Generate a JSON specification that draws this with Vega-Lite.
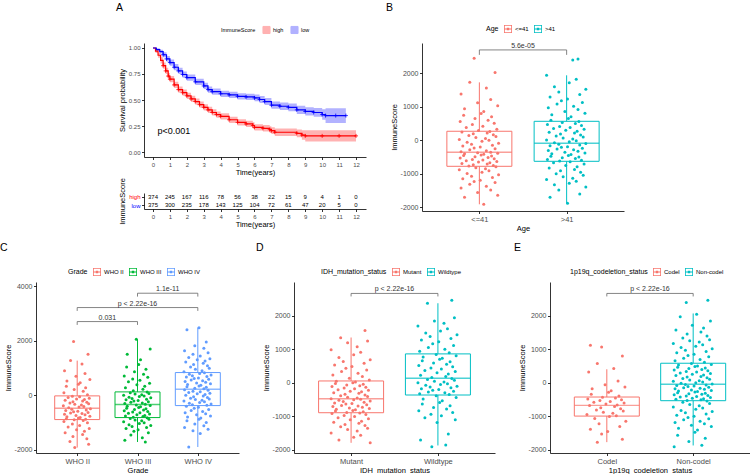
{
"$schema":"https://vega.github.io/schema/vega-lite/v6.json",
"padding":{"top":2,"left":0,"right":0,"bottom":0},
"config":{
 "font":"Liberation Sans",
 "view":{"stroke":null},
 "axis":{"grid":false,"labelOverlap":false,"domainColor":"#000","domainWidth":0.8,"tickColor":"#000","tickWidth":0.8,"tickSize":2.5,"labelColor":"#4D4D4D","labelFontSize":7,"titleFontSize":7.5,"titleFontWeight":"normal","titleColor":"#000","labelPadding":1.5,"titlePadding":2},
 "legend":{"orient":"none","direction":"horizontal","titleOrient":"left","titleFontWeight":"normal","titleFontSize":7,"labelFontSize":6,"titleColor":"#000","labelColor":"#000","symbolType":"M-1,-1H1V1H-1Z M-0.8,-0.8V0.8H0.8V-0.8Z M-0.8,-0.1H0.8V0.1H-0.8Z M-0.3,-0.3H0.3V0.3H-0.3Z","symbolSize":64,"symbolStrokeWidth":0,"labelOffset":3,"columnPadding":5,"titlePadding":5},
 "title":{"fontSize":10.5,"fontWeight":"normal","anchor":"start","frame":"group","color":"#000","offset":12}
},
"datasets":{
"surv":[
{"grp":"high","t":0,"s":1,"lo":1,"hi":1},{"grp":"high","t":0.15,"s":0.97,"lo":0.952,"hi":0.988},{"grp":"high","t":0.3,"s":0.93,"lo":0.905,"hi":0.955},{"grp":"high","t":0.45,"s":0.88,"lo":0.85,"hi":0.91},{"grp":"high","t":0.6,"s":0.83,"lo":0.8,"hi":0.86},{"grp":"high","t":0.75,"s":0.78,"lo":0.75,"hi":0.81},{"grp":"high","t":0.9,"s":0.73,"lo":0.7,"hi":0.76},{"grp":"high","t":1.0,"s":0.7,"lo":0.67,"hi":0.73},{"grp":"high","t":1.25,"s":0.645,"lo":0.615,"hi":0.675},{"grp":"high","t":1.5,"s":0.6,"lo":0.57,"hi":0.63},{"grp":"high","t":1.75,"s":0.57,"lo":0.54,"hi":0.6},{"grp":"high","t":2.0,"s":0.54,"lo":0.51,"hi":0.57},{"grp":"high","t":2.25,"s":0.51,"lo":0.48,"hi":0.54},{"grp":"high","t":2.5,"s":0.485,"lo":0.455,"hi":0.515},{"grp":"high","t":2.75,"s":0.455,"lo":0.425,"hi":0.485},{"grp":"high","t":3.0,"s":0.43,"lo":0.4,"hi":0.46},{"grp":"high","t":3.25,"s":0.405,"lo":0.375,"hi":0.435},{"grp":"high","t":3.5,"s":0.38,"lo":0.35,"hi":0.41},{"grp":"high","t":3.75,"s":0.36,"lo":0.33,"hi":0.39},{"grp":"high","t":4.0,"s":0.343,"lo":0.313,"hi":0.373},{"grp":"high","t":4.5,"s":0.31,"lo":0.28,"hi":0.34},{"grp":"high","t":5.0,"s":0.285,"lo":0.255,"hi":0.315},{"grp":"high","t":5.5,"s":0.27,"lo":0.24,"hi":0.3},{"grp":"high","t":5.9,"s":0.255,"lo":0.224,"hi":0.286},{"grp":"high","t":6.0,"s":0.237,"lo":0.206,"hi":0.268},{"grp":"high","t":6.5,"s":0.228,"lo":0.196,"hi":0.26},{"grp":"high","t":6.9,"s":0.215,"lo":0.182,"hi":0.248},{"grp":"high","t":7.0,"s":0.205,"lo":0.172,"hi":0.238},{"grp":"high","t":7.2,"s":0.19,"lo":0.155,"hi":0.225},{"grp":"high","t":8.5,"s":0.18,"lo":0.143,"hi":0.217},{"grp":"high","t":8.8,"s":0.163,"lo":0.118,"hi":0.208},{"grp":"high","t":9.0,"s":0.155,"lo":0.1,"hi":0.21},{"grp":"high","t":10.0,"s":0.155,"lo":0.1,"hi":0.21},{"grp":"high","t":11.0,"s":0.155,"lo":0.1,"hi":0.21},{"grp":"high","t":12.0,"s":0.155,"lo":0.1,"hi":0.21},
{"grp":"low","t":0,"s":1,"lo":1,"hi":1},{"grp":"low","t":0.2,"s":0.985,"lo":0.973,"hi":0.997},{"grp":"low","t":0.4,"s":0.965,"lo":0.947,"hi":0.983},{"grp":"low","t":0.6,"s":0.935,"lo":0.91,"hi":0.96},{"grp":"low","t":0.8,"s":0.895,"lo":0.867,"hi":0.923},{"grp":"low","t":1.0,"s":0.86,"lo":0.83,"hi":0.89},{"grp":"low","t":1.25,"s":0.815,"lo":0.785,"hi":0.845},{"grp":"low","t":1.5,"s":0.78,"lo":0.75,"hi":0.81},{"grp":"low","t":1.75,"s":0.745,"lo":0.715,"hi":0.775},{"grp":"low","t":2.0,"s":0.715,"lo":0.685,"hi":0.745},{"grp":"low","t":2.5,"s":0.675,"lo":0.645,"hi":0.705},{"grp":"low","t":3.0,"s":0.635,"lo":0.605,"hi":0.665},{"grp":"low","t":3.25,"s":0.6,"lo":0.57,"hi":0.63},{"grp":"low","t":3.5,"s":0.58,"lo":0.55,"hi":0.61},{"grp":"low","t":4.0,"s":0.56,"lo":0.53,"hi":0.59},{"grp":"low","t":4.5,"s":0.55,"lo":0.52,"hi":0.58},{"grp":"low","t":5.0,"s":0.535,"lo":0.505,"hi":0.565},{"grp":"low","t":5.5,"s":0.53,"lo":0.5,"hi":0.56},{"grp":"low","t":6.0,"s":0.52,"lo":0.488,"hi":0.552},{"grp":"low","t":6.3,"s":0.505,"lo":0.472,"hi":0.538},{"grp":"low","t":6.6,"s":0.485,"lo":0.451,"hi":0.519},{"grp":"low","t":7.0,"s":0.45,"lo":0.415,"hi":0.485},{"grp":"low","t":7.5,"s":0.44,"lo":0.404,"hi":0.476},{"grp":"low","t":8.0,"s":0.43,"lo":0.393,"hi":0.467},{"grp":"low","t":8.5,"s":0.405,"lo":0.366,"hi":0.444},{"grp":"low","t":9.0,"s":0.39,"lo":0.35,"hi":0.43},{"grp":"low","t":9.5,"s":0.38,"lo":0.338,"hi":0.422},{"grp":"low","t":10.0,"s":0.36,"lo":0.31,"hi":0.41},{"grp":"low","t":10.2,"s":0.35,"lo":0.28,"hi":0.42},{"grp":"low","t":10.8,"s":0.35,"lo":0.28,"hi":0.42},{"grp":"low","t":11.4,"s":0.35,"lo":0.28,"hi":0.42}
],
"risk":[
{"grp":"high","t":0,"n":374},{"grp":"high","t":1,"n":245},{"grp":"high","t":2,"n":167},{"grp":"high","t":3,"n":116},{"grp":"high","t":4,"n":78},{"grp":"high","t":5,"n":56},{"grp":"high","t":6,"n":38},{"grp":"high","t":7,"n":22},{"grp":"high","t":8,"n":15},{"grp":"high","t":9,"n":9},{"grp":"high","t":10,"n":4},{"grp":"high","t":11,"n":1},{"grp":"high","t":12,"n":0},
{"grp":"low","t":0,"n":375},{"grp":"low","t":1,"n":300},{"grp":"low","t":2,"n":235},{"grp":"low","t":3,"n":178},{"grp":"low","t":4,"n":143},{"grp":"low","t":5,"n":125},{"grp":"low","t":6,"n":104},{"grp":"low","t":7,"n":72},{"grp":"low","t":8,"n":61},{"grp":"low","t":9,"n":47},{"grp":"low","t":10,"n":20},{"grp":"low","t":11,"n":5},{"grp":"low","t":12,"n":0}
],
"bBox":[{"grp":"<=41","c":1,"lo":-1910,"q1":-776,"med":-358,"q3":270,"hi":1730},{"grp":">41","c":2,"lo":-1880,"q1":-627,"med":-90,"q3":567,"hi":1940}],
"cBox":[{"grp":"WHO II","c":1,"lo":-1920,"q1":-893,"med":-477,"q3":-24,"hi":1270},{"grp":"WHO III","c":2,"lo":-1716,"q1":-820,"med":-343,"q3":122,"hi":2055},{"grp":"WHO IV","c":3,"lo":-1900,"q1":-380,"med":220,"q3":832,"hi":2483}],
"dBox":[{"grp":"Mutant","c":1,"lo":-1786,"q1":-888,"med":-469,"q3":60,"hi":1357},{"grp":"Wildtype","c":2,"lo":-1865,"q1":-359,"med":140,"q3":868,"hi":2380}],
"eBox":[{"grp":"Codel","c":1,"lo":-1766,"q1":-988,"med":-668,"q3":-419,"hi":409},{"grp":"Non-codel","c":2,"lo":-1865,"q1":-529,"med":-40,"q3":589,"hi":2075}],
"bBr":[{"x1":1,"x2":2,"xm":1.5,"y":2697,"yl":2550,"label":"5.6e-05"}],
"cBr":[{"x1":1,"x2":2,"xm":1.5,"y":2703,"yl":2580,"label":"0.031"},{"x1":1,"x2":3,"xm":2,"y":3217,"yl":3094,"label":"p < 2.22e-16"},{"x1":2,"x2":3,"xm":2.5,"y":3743,"yl":3620,"label":"1.1e-11"}],
"dBr":[{"x1":1,"x2":2,"xm":1.5,"y":2673,"yl":2583,"label":"p < 2.22e-16"}],
"eBr":[{"x1":1,"x2":2,"xm":1.5,"y":2673,"yl":2583,"label":"p < 2.22e-16"}],
"bPts":[
{"x":1.05,"y":-1910},{"x":0.83,"y":-1700},{"x":1.21,"y":-1640},{"x":0.98,"y":-1560},{"x":1.13,"y":-1480},{"x":0.79,"y":-1420},{"x":1.08,"y":-1370},{"x":0.89,"y":-1310},{"x":1.18,"y":-1260},{"x":0.94,"y":-1230},{"x":1.01,"y":-1190},{"x":0.81,"y":-1150},{"x":1.15,"y":-1110},{"x":0.91,"y":-1070},{"x":1.22,"y":-1030},{"x":0.86,"y":-990},{"x":1.03,"y":-950},{"x":1.11,"y":-910},{"x":0.77,"y":-880},{"x":1.07,"y":-850},{"x":0.96,"y":-820},{"x":1.19,"y":-790},{"x":0.88,"y":-770},{"x":1.16,"y":-750},{"x":0.93,"y":-730},{"x":1.09,"y":-710},{"x":0.8,"y":-690},{"x":1.12,"y":-670},{"x":0.99,"y":-650},{"x":1.2,"y":-630},{"x":0.85,"y":-610},{"x":1.04,"y":-590},{"x":0.92,"y":-570},{"x":1.17,"y":-550},{"x":0.78,"y":-530},{"x":1.1,"y":-510},{"x":0.95,"y":-490},{"x":1.14,"y":-470},{"x":0.82,"y":-450},{"x":1.02,"y":-435},
{"x":1.05,"y":-420},{"x":0.83,"y":-405},{"x":1.21,"y":-390},{"x":0.98,"y":-375},{"x":1.13,"y":-360},{"x":0.79,"y":-340},{"x":1.08,"y":-310},{"x":0.89,"y":-285},{"x":1.18,"y":-255},{"x":0.94,"y":-230},{"x":1.01,"y":-200},{"x":0.81,"y":-170},{"x":1.15,"y":-145},{"x":0.91,"y":-115},{"x":1.22,"y":-90},{"x":0.86,"y":-60},{"x":1.03,"y":-30},{"x":1.11,"y":0},{"x":0.77,"y":25},{"x":1.07,"y":55},{"x":0.96,"y":85},{"x":1.19,"y":110},{"x":0.88,"y":140},{"x":1.16,"y":165},{"x":0.93,"y":195},{"x":1.09,"y":220},{"x":0.8,"y":245},{"x":1.12,"y":265},{"x":0.99,"y":290},{"x":1.2,"y":330},{"x":0.85,"y":380},{"x":1.04,"y":420},{"x":0.92,"y":470},{"x":1.17,"y":510},{"x":0.78,"y":560},{"x":1.1,"y":600},{"x":0.95,"y":650},{"x":1.14,"y":700},{"x":0.82,"y":750},{"x":1.02,"y":800},
{"x":1.05,"y":860},{"x":0.83,"y":940},{"x":1.21,"y":1030},{"x":0.98,"y":1120},{"x":1.13,"y":1220},{"x":0.79,"y":1380},{"x":1.08,"y":1560},{"x":0.89,"y":1730},{"x":1.18,"y":2020},{"x":0.94,"y":2450},
{"x":2.01,"y":-1880},{"x":1.81,"y":-1700},{"x":2.15,"y":-1600},{"x":1.91,"y":-1480},{"x":2.22,"y":-1390},{"x":1.86,"y":-1330},{"x":2.03,"y":-1280},{"x":2.11,"y":-1220},{"x":1.77,"y":-1170},{"x":2.07,"y":-1130},{"x":1.96,"y":-1090},{"x":2.19,"y":-1040},{"x":1.88,"y":-1000},{"x":2.16,"y":-950},{"x":1.93,"y":-910},{"x":2.09,"y":-870},{"x":1.8,"y":-830},{"x":2.12,"y":-790},{"x":1.99,"y":-750},{"x":2.2,"y":-710},{"x":1.85,"y":-670},{"x":2.04,"y":-640},{"x":1.92,"y":-620},{"x":2.17,"y":-595},{"x":1.78,"y":-570},{"x":2.1,"y":-545},{"x":1.95,"y":-520},{"x":2.14,"y":-500},{"x":1.82,"y":-475},{"x":2.02,"y":-450},
{"x":2.05,"y":-425},{"x":1.83,"y":-400},{"x":2.21,"y":-380},{"x":1.98,"y":-355},{"x":2.13,"y":-330},{"x":1.79,"y":-305},{"x":2.08,"y":-285},{"x":1.89,"y":-260},{"x":2.18,"y":-235},{"x":1.94,"y":-210},{"x":2.01,"y":-190},{"x":1.81,"y":-165},{"x":2.15,"y":-140},{"x":1.91,"y":-115},{"x":2.22,"y":-95},{"x":1.86,"y":-75},{"x":2.03,"y":-45},{"x":2.11,"y":-15},{"x":1.77,"y":10},{"x":2.07,"y":40},{"x":1.96,"y":70},{"x":2.19,"y":100},{"x":1.88,"y":125},{"x":2.16,"y":155},{"x":1.93,"y":185},{"x":2.09,"y":215},{"x":1.8,"y":240},{"x":2.12,"y":270},{"x":1.99,"y":300},{"x":2.2,"y":330},{"x":1.85,"y":355},{"x":2.04,"y":385},{"x":1.92,"y":415},{"x":2.17,"y":445},{"x":1.78,"y":470},{"x":2.1,"y":500},{"x":1.95,"y":530},{"x":2.14,"y":560},{"x":1.82,"y":600},{"x":2.02,"y":650},
{"x":2.05,"y":700},{"x":1.83,"y":760},{"x":2.21,"y":810},{"x":1.98,"y":860},{"x":2.13,"y":920},{"x":1.79,"y":970},{"x":2.08,"y":1020},{"x":1.89,"y":1080},{"x":2.18,"y":1130},{"x":1.94,"y":1180},{"x":2.01,"y":1230},{"x":1.81,"y":1290},{"x":2.15,"y":1370},{"x":1.91,"y":1440},{"x":2.22,"y":1520},{"x":1.86,"y":1600},{"x":2.03,"y":1720},{"x":2.11,"y":1820},{"x":1.77,"y":1940},{"x":2.07,"y":2400},{"x":2.13,"y":2430}
],
"cPts":[
{"x":0.96,"y":-1920},{"x":1.19,"y":-1800},{"x":0.88,"y":-1700},{"x":1.16,"y":-1600},{"x":0.93,"y":-1510},{"x":1.09,"y":-1440},{"x":0.8,"y":-1380},{"x":1.12,"y":-1320},{"x":0.99,"y":-1270},{"x":1.2,"y":-1220},{"x":0.85,"y":-1170},{"x":1.04,"y":-1110},{"x":0.92,"y":-1060},{"x":1.17,"y":-1010},{"x":0.78,"y":-960},{"x":1.1,"y":-930},{"x":0.95,"y":-900},{"x":1.14,"y":-885},{"x":0.82,"y":-860},{"x":1.02,"y":-835},
{"x":1.05,"y":-815},{"x":0.83,"y":-790},{"x":1.21,"y":-770},{"x":0.98,"y":-745},{"x":1.13,"y":-720},{"x":0.79,"y":-700},{"x":1.08,"y":-675},{"x":0.89,"y":-650},{"x":1.18,"y":-630},{"x":0.94,"y":-605},{"x":1.01,"y":-585},{"x":0.81,"y":-560},{"x":1.15,"y":-540},{"x":0.91,"y":-515},{"x":1.22,"y":-495},{"x":0.86,"y":-460},{"x":1.03,"y":-435},{"x":1.11,"y":-410},{"x":0.77,"y":-385},{"x":1.07,"y":-360},{"x":0.96,"y":-335},{"x":1.19,"y":-310},{"x":0.88,"y":-285},{"x":1.16,"y":-260},{"x":0.93,"y":-235},{"x":1.09,"y":-210},{"x":0.8,"y":-185},{"x":1.12,"y":-160},{"x":0.99,"y":-135},{"x":1.2,"y":-110},{"x":0.85,"y":-85},{"x":1.04,"y":-60},{"x":0.92,"y":-35},{"x":1.17,"y":20},{"x":0.78,"y":90},{"x":1.1,"y":150},{"x":0.95,"y":210},{"x":1.14,"y":270},{"x":0.82,"y":330},{"x":1.02,"y":400},
{"x":1.05,"y":460},{"x":0.83,"y":520},{"x":1.21,"y":580},{"x":0.98,"y":700},{"x":1.13,"y":800},{"x":0.79,"y":900},{"x":1.08,"y":1150},{"x":0.89,"y":1270},{"x":1.18,"y":1500},{"x":0.94,"y":1970},
{"x":2.13,"y":-1716},{"x":1.79,"y":-1650},{"x":2.08,"y":-1560},{"x":1.89,"y":-1460},{"x":2.18,"y":-1380},{"x":1.94,"y":-1320},{"x":2.01,"y":-1270},{"x":1.81,"y":-1220},{"x":2.15,"y":-1180},{"x":1.91,"y":-1150},{"x":2.22,"y":-1110},{"x":1.86,"y":-1080},{"x":2.03,"y":-1040},{"x":2.11,"y":-1010},{"x":1.77,"y":-970},{"x":2.07,"y":-940},{"x":1.96,"y":-910},{"x":2.19,"y":-880},{"x":1.88,"y":-850},{"x":2.16,"y":-830},{"x":1.93,"y":-810},{"x":2.09,"y":-785},{"x":1.8,"y":-760},{"x":2.12,"y":-740},{"x":1.99,"y":-715},{"x":2.2,"y":-690},{"x":1.85,"y":-665},{"x":2.04,"y":-640},{"x":1.92,"y":-620},{"x":2.17,"y":-595},{"x":1.78,"y":-570},{"x":2.1,"y":-545},{"x":1.95,"y":-520},{"x":2.14,"y":-500},{"x":1.82,"y":-475},{"x":2.02,"y":-450},
{"x":2.05,"y":-425},{"x":1.83,"y":-400},{"x":2.21,"y":-380},{"x":1.98,"y":-355},{"x":2.13,"y":-330},{"x":1.79,"y":-305},{"x":2.08,"y":-285},{"x":1.89,"y":-260},{"x":2.18,"y":-235},{"x":1.94,"y":-215},{"x":2.01,"y":-190},{"x":1.81,"y":-165},{"x":2.15,"y":-145},{"x":1.91,"y":-120},{"x":2.22,"y":-95},{"x":1.86,"y":-75},{"x":2.03,"y":-50},{"x":2.11,"y":-25},{"x":1.77,"y":-5},{"x":2.07,"y":20},{"x":1.96,"y":45},{"x":2.19,"y":65},{"x":1.88,"y":90},{"x":2.16,"y":115},{"x":1.93,"y":160},{"x":2.09,"y":220},{"x":1.8,"y":270},{"x":2.12,"y":330},{"x":1.99,"y":380},{"x":2.2,"y":440},{"x":1.85,"y":490},{"x":2.04,"y":550},{"x":1.92,"y":600},{"x":2.17,"y":660},{"x":1.78,"y":710},{"x":2.1,"y":770},{"x":1.95,"y":860},{"x":2.14,"y":950},{"x":1.82,"y":1040},{"x":2.02,"y":1130},
{"x":2.05,"y":1300},{"x":1.83,"y":1500},{"x":2.21,"y":1700},{"x":1.98,"y":2050},
{"x":2.85,"y":-1900},{"x":3.04,"y":-1400},{"x":2.92,"y":-1300},{"x":3.17,"y":-1250},{"x":2.78,"y":-1180},{"x":3.1,"y":-1120},{"x":2.95,"y":-1060},{"x":3.14,"y":-1000},{"x":2.82,"y":-940},{"x":3.02,"y":-880},
{"x":3.05,"y":-840},{"x":2.83,"y":-800},{"x":3.21,"y":-760},{"x":2.98,"y":-720},{"x":3.13,"y":-680},{"x":2.79,"y":-640},{"x":3.08,"y":-600},{"x":2.89,"y":-560},{"x":3.18,"y":-520},{"x":2.94,"y":-480},{"x":3.01,"y":-440},{"x":2.81,"y":-400},{"x":3.15,"y":-370},{"x":2.91,"y":-345},{"x":3.22,"y":-320},{"x":2.86,"y":-290},{"x":3.03,"y":-265},{"x":3.11,"y":-240},{"x":2.77,"y":-215},{"x":3.07,"y":-185},{"x":2.96,"y":-160},{"x":3.19,"y":-135},{"x":2.88,"y":-110},{"x":3.16,"y":-80},{"x":2.93,"y":-55},{"x":3.09,"y":-30},{"x":2.8,"y":-5},{"x":3.12,"y":25},{"x":2.99,"y":50},{"x":3.2,"y":75},{"x":2.85,"y":100},{"x":3.04,"y":125},{"x":2.92,"y":150},{"x":3.17,"y":180},{"x":2.78,"y":205},{"x":3.1,"y":235},{"x":2.95,"y":260},{"x":3.14,"y":290},{"x":2.82,"y":315},{"x":3.02,"y":340},
{"x":3.05,"y":370},{"x":2.83,"y":395},{"x":3.21,"y":420},{"x":2.98,"y":450},{"x":3.13,"y":475},{"x":2.79,"y":500},{"x":3.08,"y":530},{"x":2.89,"y":555},{"x":3.18,"y":585},{"x":2.94,"y":610},{"x":3.01,"y":635},{"x":2.81,"y":665},{"x":3.15,"y":690},{"x":2.91,"y":715},{"x":3.22,"y":745},{"x":2.86,"y":770},{"x":3.03,"y":795},{"x":3.11,"y":825},{"x":2.77,"y":860},{"x":3.07,"y":900},{"x":2.96,"y":950},{"x":3.19,"y":990},{"x":2.88,"y":1040},{"x":3.16,"y":1080},{"x":2.93,"y":1130},{"x":3.09,"y":1170},{"x":2.8,"y":1220},{"x":3.12,"y":1260},{"x":2.99,"y":1300},{"x":3.2,"y":1340},{"x":2.85,"y":1380},{"x":3.04,"y":1440},{"x":2.92,"y":1500},{"x":3.17,"y":1560},{"x":2.78,"y":1630},{"x":3.1,"y":1720},{"x":2.95,"y":1820},{"x":3.14,"y":1950},{"x":2.82,"y":2400},{"x":3.02,"y":2480}
],
"dPts":[
{"x":1.22,"y":-1786},{"x":0.86,"y":-1700},{"x":1.03,"y":-1620},{"x":1.11,"y":-1560},{"x":0.77,"y":-1490},{"x":1.07,"y":-1430},{"x":0.96,"y":-1390},{"x":1.19,"y":-1350},{"x":0.88,"y":-1310},{"x":1.16,"y":-1270},{"x":0.93,"y":-1240},{"x":1.09,"y":-1200},{"x":0.8,"y":-1170},{"x":1.12,"y":-1140},{"x":0.99,"y":-1100},{"x":1.2,"y":-1070},{"x":0.85,"y":-1040},{"x":1.04,"y":-1000},{"x":0.92,"y":-970},{"x":1.17,"y":-940},{"x":0.78,"y":-910},{"x":1.1,"y":-895},{"x":0.95,"y":-880},{"x":1.14,"y":-860},{"x":0.82,"y":-840},{"x":1.02,"y":-820},
{"x":1.05,"y":-800},{"x":0.83,"y":-785},{"x":1.21,"y":-765},{"x":0.98,"y":-745},{"x":1.13,"y":-725},{"x":0.79,"y":-705},{"x":1.08,"y":-690},{"x":0.89,"y":-670},{"x":1.18,"y":-650},{"x":0.94,"y":-630},{"x":1.01,"y":-610},{"x":0.81,"y":-595},{"x":1.15,"y":-575},{"x":0.91,"y":-555},{"x":1.22,"y":-535},{"x":0.86,"y":-515},{"x":1.03,"y":-500},{"x":1.11,"y":-485},{"x":0.77,"y":-470},{"x":1.07,"y":-450},{"x":0.96,"y":-425},{"x":1.19,"y":-405},{"x":0.88,"y":-380},{"x":1.16,"y":-360},{"x":0.93,"y":-335},{"x":1.09,"y":-310},{"x":0.8,"y":-290},{"x":1.12,"y":-265},{"x":0.99,"y":-245},{"x":1.2,"y":-220},{"x":0.85,"y":-200},{"x":1.04,"y":-175},{"x":0.92,"y":-150},{"x":1.17,"y":-130},{"x":0.78,"y":-105},{"x":1.1,"y":-85},{"x":0.95,"y":-60},{"x":1.14,"y":-40},{"x":0.82,"y":-15},{"x":1.02,"y":10},
{"x":1.05,"y":30},{"x":0.83,"y":55},{"x":1.21,"y":90},{"x":0.98,"y":140},{"x":1.13,"y":190},{"x":0.79,"y":240},{"x":1.08,"y":290},{"x":0.89,"y":340},{"x":1.18,"y":390},{"x":0.94,"y":440},{"x":1.01,"y":490},{"x":0.81,"y":540},{"x":1.15,"y":590},{"x":0.91,"y":640},{"x":1.22,"y":690},{"x":0.86,"y":760},{"x":1.03,"y":840},{"x":1.11,"y":920},{"x":0.77,"y":990},{"x":1.07,"y":1080},{"x":0.96,"y":1200},{"x":1.19,"y":1250},{"x":0.88,"y":1350},{"x":1.16,"y":1570},
{"x":1.93,"y":-1900},{"x":2.09,"y":-1850},{"x":1.8,"y":-1700},{"x":2.12,"y":-1520},{"x":1.99,"y":-1180},{"x":2.2,"y":-1100},{"x":1.85,"y":-1040},{"x":2.04,"y":-980},{"x":1.92,"y":-930},{"x":2.17,"y":-880},{"x":1.78,"y":-830},{"x":2.1,"y":-780},{"x":1.95,"y":-730},{"x":2.14,"y":-680},{"x":1.82,"y":-630},{"x":2.02,"y":-580},
{"x":2.05,"y":-530},{"x":1.83,"y":-480},{"x":2.21,"y":-430},{"x":1.98,"y":-380},{"x":2.13,"y":-345},{"x":1.79,"y":-320},{"x":2.08,"y":-295},{"x":1.89,"y":-270},{"x":2.18,"y":-245},{"x":1.94,"y":-220},{"x":2.01,"y":-195},{"x":1.81,"y":-170},{"x":2.15,"y":-145},{"x":1.91,"y":-120},{"x":2.22,"y":-95},{"x":1.86,"y":-70},{"x":2.03,"y":-45},{"x":2.11,"y":-20},{"x":1.77,"y":5},{"x":2.07,"y":30},{"x":1.96,"y":55},{"x":2.19,"y":80},{"x":1.88,"y":105},{"x":2.16,"y":130},{"x":1.93,"y":160},{"x":2.09,"y":195},{"x":1.8,"y":230},{"x":2.12,"y":270},{"x":1.99,"y":305},{"x":2.2,"y":340},{"x":1.85,"y":375},{"x":2.04,"y":415},{"x":1.92,"y":450},{"x":2.17,"y":485},{"x":1.78,"y":520},{"x":2.1,"y":560},{"x":1.95,"y":595},{"x":2.14,"y":630},{"x":1.82,"y":665},{"x":2.02,"y":705},
{"x":2.05,"y":740},{"x":1.83,"y":775},{"x":2.21,"y":810},{"x":1.98,"y":850},{"x":2.13,"y":900},{"x":1.79,"y":950},{"x":2.08,"y":1010},{"x":1.89,"y":1060},{"x":2.18,"y":1120},{"x":1.94,"y":1170},{"x":2.01,"y":1230},{"x":1.81,"y":1280},{"x":2.15,"y":1330},{"x":1.91,"y":1390},{"x":2.22,"y":1440},{"x":1.86,"y":1490},{"x":2.03,"y":1550},{"x":2.11,"y":1620},{"x":1.77,"y":1700},{"x":2.07,"y":1780},{"x":1.96,"y":1850},{"x":2.19,"y":1950},{"x":1.88,"y":2380},{"x":2.16,"y":2470}
],
"ePts":[
{"x":0.89,"y":-1766},{"x":1.18,"y":-1680},{"x":0.94,"y":-1520},{"x":1.01,"y":-1450},{"x":0.81,"y":-1380},{"x":1.15,"y":-1300},{"x":0.91,"y":-1220},{"x":1.22,"y":-1140},{"x":0.86,"y":-1060},{"x":1.03,"y":-1000},{"x":1.11,"y":-975},{"x":0.77,"y":-940},{"x":1.07,"y":-905},{"x":0.96,"y":-870},{"x":1.19,"y":-840},{"x":0.88,"y":-805},{"x":1.16,"y":-770},{"x":0.93,"y":-740},{"x":1.09,"y":-705},{"x":0.8,"y":-675},{"x":1.12,"y":-655},{"x":0.99,"y":-630},{"x":1.2,"y":-600},{"x":0.85,"y":-575},{"x":1.04,"y":-550},{"x":0.92,"y":-525},{"x":1.17,"y":-500},{"x":0.78,"y":-475},{"x":1.1,"y":-450},{"x":0.95,"y":-425},{"x":1.14,"y":-390},{"x":0.82,"y":-340},{"x":1.02,"y":-280},
{"x":1.05,"y":-230},{"x":0.83,"y":-170},{"x":1.21,"y":-120},{"x":0.98,"y":-50},{"x":1.13,"y":60},{"x":0.79,"y":330},{"x":1.08,"y":430},{"x":0.89,"y":580},{"x":1.18,"y":808},{"x":0.94,"y":1077},{"x":0.81,"y":1127},
{"x":1.78,"y":-1900},{"x":2.1,"y":-1860},{"x":1.95,"y":-1750},{"x":2.14,"y":-1650},{"x":1.82,"y":-1560},{"x":2.02,"y":-1470},
{"x":2.05,"y":-1400},{"x":1.83,"y":-1350},{"x":2.21,"y":-1300},{"x":1.98,"y":-1260},{"x":2.13,"y":-1220},{"x":1.79,"y":-1180},{"x":2.08,"y":-1140},{"x":1.89,"y":-1100},{"x":2.18,"y":-1065},{"x":1.94,"y":-1030},{"x":2.01,"y":-995},{"x":1.81,"y":-960},{"x":2.15,"y":-925},{"x":1.91,"y":-890},{"x":2.22,"y":-855},{"x":1.86,"y":-820},{"x":2.03,"y":-785},{"x":2.11,"y":-750},{"x":1.77,"y":-715},{"x":2.07,"y":-680},{"x":1.96,"y":-645},{"x":2.19,"y":-610},{"x":1.88,"y":-575},{"x":2.16,"y":-540},{"x":1.93,"y":-520},{"x":2.09,"y":-503},{"x":1.8,"y":-487},{"x":2.12,"y":-470},{"x":1.99,"y":-454},{"x":2.2,"y":-437},{"x":1.85,"y":-421},{"x":2.04,"y":-404},{"x":1.92,"y":-388},{"x":2.17,"y":-371},{"x":1.78,"y":-355},{"x":2.1,"y":-338},{"x":1.95,"y":-322},{"x":2.14,"y":-305},{"x":1.82,"y":-289},{"x":2.02,"y":-272},
{"x":2.05,"y":-256},{"x":1.83,"y":-239},{"x":2.21,"y":-223},{"x":1.98,"y":-206},{"x":2.13,"y":-190},{"x":1.79,"y":-173},{"x":2.08,"y":-157},{"x":1.89,"y":-140},{"x":2.18,"y":-124},{"x":1.94,"y":-107},{"x":2.01,"y":-91},{"x":1.81,"y":-74},{"x":2.15,"y":-58},{"x":1.91,"y":-45},{"x":2.22,"y":-30},{"x":1.86,"y":-10},{"x":2.03,"y":10},{"x":2.11,"y":30},{"x":1.77,"y":50},{"x":2.07,"y":70},{"x":1.96,"y":90},{"x":2.19,"y":115},{"x":1.88,"y":135},{"x":2.16,"y":155},{"x":1.93,"y":175},{"x":2.09,"y":195},{"x":1.8,"y":220},{"x":2.12,"y":240},{"x":1.99,"y":260},{"x":2.2,"y":280},{"x":1.85,"y":300},{"x":2.04,"y":325},{"x":1.92,"y":345},{"x":2.17,"y":365},{"x":1.78,"y":385},{"x":2.1,"y":405},{"x":1.95,"y":430},{"x":2.14,"y":450},{"x":1.82,"y":470},{"x":2.02,"y":490},
{"x":2.05,"y":510},{"x":1.83,"y":535},{"x":2.21,"y":555},{"x":1.98,"y":580},{"x":2.13,"y":620},{"x":1.79,"y":660},{"x":2.08,"y":700},{"x":1.89,"y":740},{"x":2.18,"y":780},{"x":1.94,"y":820},{"x":2.01,"y":860},{"x":1.81,"y":900},{"x":2.15,"y":940},{"x":1.91,"y":980},{"x":2.22,"y":1020},{"x":1.86,"y":1060},{"x":2.03,"y":1100},{"x":2.11,"y":1140},{"x":1.77,"y":1180},{"x":2.07,"y":1220},{"x":1.96,"y":1260},{"x":2.19,"y":1290},{"x":1.88,"y":1340},{"x":2.16,"y":1400},{"x":1.93,"y":1460},{"x":2.09,"y":1520},{"x":1.8,"y":1580},{"x":2.12,"y":1640},{"x":1.99,"y":1720},{"x":2.2,"y":1850},{"x":1.85,"y":1980},{"x":2.04,"y":2050},{"x":1.92,"y":2400},{"x":2.17,"y":2470}
]
},
"spacing":10,
"resolve":{"scale":{"color":"independent","fill":"independent","stroke":"independent"},"legend":{"color":"independent","fill":"independent","stroke":"independent"}},
"vconcat":[
{"hconcat":[
 {"width":60,"height":10,"data":{"values":[]},"mark":{"type":"point","opacity":0},"encoding":{}},
 {"vconcat":[
  {"width":222,"height":114,
   "title":{"text":"A","dx":-28},
   "data":{"name":"surv"},
   "encoding":{
    "x":{"field":"t","type":"quantitative","scale":{"domain":[-0.53,12.59],"nice":false,"zero":false},"axis":{"values":[0,1,2,3,4,5,6,7,8,9,10,11,12],"labelOverlap":false,"title":"Time(years)","labelFontSize":6,"titlePadding":1}},
    "y":{"field":"s","type":"quantitative","scale":{"domain":[-0.048,1.048],"nice":false,"zero":false},"axis":{"values":[0,0.25,0.5,0.75,1],"format":".2f","title":"Survival probability","labelFontSize":6}},
    "color":{"field":"grp","type":"nominal","scale":{"domain":["high","low"],"range":["#FF0000","#0000FF"]},"legend":{"title":"ImmuneScore","legendX":77,"legendY":-18,"titleFontSize":5.5,"labelFontSize":5.5,"symbolType":"square","symbolStrokeWidth":1,"symbolSize":50,"labelOffset":2,"columnPadding":4,"titlePadding":6}}
   },
   "layer":[
    {"mark":{"type":"area","interpolate":"step-after","opacity":0.3},
     "encoding":{"y":{"field":"lo","type":"quantitative"},"y2":{"field":"hi"}}},
    {"mark":{"type":"line","interpolate":"step-after","strokeWidth":1.2}},
    {"transform":[{"filter":"datum.t > 0.5"}],
     "mark":{"type":"point","shape":"M-1,0H1M0,-1V1","size":16,"strokeWidth":0.8,"filled":false,"opacity":1}},
    {"data":{"values":[{"t":1.24,"s":0.2,"label":"p<0.001","grp":"high"}]},
     "mark":{"type":"text","fontSize":9},
     "encoding":{"color":{"value":"#000"},"text":{"field":"label"}}}
   ]},
  {"width":222,"height":16,
   "data":{"name":"risk"},
   "mark":{"type":"text","fontSize":6,"color":"#000"},
   "encoding":{
    "x":{"field":"t","type":"quantitative","scale":{"domain":[-0.53,12.59],"nice":false,"zero":false},"axis":{"values":[0,1,2,3,4,5,6,7,8,9,10,11,12],"labelOverlap":false,"title":"Time(years)","labelFontSize":6,"titlePadding":1}},
    "y":{"field":"grp","type":"nominal","scale":{"type":"point","padding":0.39,"domain":["high","low"]},"axis":{"title":"ImmuneScore","labelFontSize":6,"labelColor":{"condition":{"test":"datum.value === 'high'","value":"#FF0000"},"value":"#0000FF"}}},
    "text":{"field":"n","type":"quantitative"}}}
 ],"spacing":36,"bounds":"flush",
 "resolve":{"scale":{"color":"independent","fill":"independent","stroke":"independent"},"legend":{"color":"independent","fill":"independent","stroke":"independent"}}},
 {"width":202,"height":168,
  "title":{"text":"B","dx":-36},
  "layer":[
   {"data":{"name":"bBox"},"mark":{"type":"bar","size":65,"filled":false,"strokeWidth":1},
    "encoding":{
     "x":{"field":"c","type":"quantitative","scale":{"domain":[0.4,2.6],"nice":false,"zero":false},"axis":{"values":[1,2],"labelExpr":"datum.value == 1 ? '<=41' : '>41'","title":"Age","labelFontSize":7.5,"titlePadding":2}},
     "y":{"field":"q1","type":"quantitative","scale":{"domain":[-2110,2904],"nice":false,"zero":false},"axis":{"values":[-2000,-1000,0,1000,2000],"labelExpr":"'' + datum.value","title":"ImmuneScore"}},
     "y2":{"field":"q3"},
     "color":{"field":"grp","type":"nominal","scale":{"domain":["<=41",">41"],"range":["#F8766D","#00BFC4"]},"legend":{"title":"Age","legendX":64,"legendY":-18}}}},
   {"data":{"name":"bBox"},"mark":{"type":"rule","strokeWidth":1},
    "encoding":{"x":{"field":"c","type":"quantitative","scale":{"domain":[0.4,2.6],"nice":false,"zero":false}},"y":{"field":"lo","type":"quantitative","scale":{"domain":[-2110,2904],"nice":false,"zero":false}},"y2":{"field":"q1"},"color":{"field":"grp","type":"nominal","scale":{"domain":["<=41",">41"],"range":["#F8766D","#00BFC4"]}}}},
   {"data":{"name":"bBox"},"mark":{"type":"rule","strokeWidth":1},
    "encoding":{"x":{"field":"c","type":"quantitative","scale":{"domain":[0.4,2.6],"nice":false,"zero":false}},"y":{"field":"q3","type":"quantitative","scale":{"domain":[-2110,2904],"nice":false,"zero":false}},"y2":{"field":"hi"},"color":{"field":"grp","type":"nominal","scale":{"domain":["<=41",">41"],"range":["#F8766D","#00BFC4"]}}}},
   {"data":{"name":"bBox"},"mark":{"type":"tick","orient":"horizontal","size":65,"thickness":1.4},
    "encoding":{"x":{"field":"c","type":"quantitative","scale":{"domain":[0.4,2.6],"nice":false,"zero":false}},"y":{"field":"med","type":"quantitative","scale":{"domain":[-2110,2904],"nice":false,"zero":false}},"color":{"field":"grp","type":"nominal","scale":{"domain":["<=41",">41"],"range":["#F8766D","#00BFC4"]}}}},
   {"data":{"name":"bPts"},"mark":{"type":"circle","size":9,"opacity":1},
    "encoding":{"x":{"field":"x","type":"quantitative","scale":{"domain":[0.4,2.6],"nice":false,"zero":false}},"y":{"field":"y","type":"quantitative","scale":{"domain":[-2110,2904],"nice":false,"zero":false}},"fill":{"field":"x","type":"quantitative","scale":{"type":"threshold","domain":[1.5],"range":["#F8766D","#00BFC4"]},"legend":null}}},
   {"data":{"name":"bBr"},"mark":{"type":"rule","color":"#666","strokeWidth":0.8},
    "encoding":{"x":{"field":"x1","type":"quantitative","scale":{"domain":[0.4,2.6],"nice":false,"zero":false}},"x2":{"field":"x2"},"y":{"field":"y","type":"quantitative","scale":{"domain":[-2110,2904],"nice":false,"zero":false}}}},
   {"data":{"name":"bBr"},"mark":{"type":"rule","color":"#666","strokeWidth":0.8},
    "encoding":{"x":{"field":"x1","type":"quantitative","scale":{"domain":[0.4,2.6],"nice":false,"zero":false}},"y":{"field":"y","type":"quantitative","scale":{"domain":[-2110,2904],"nice":false,"zero":false}},"y2":{"field":"yl"}}},
   {"data":{"name":"bBr"},"mark":{"type":"rule","color":"#666","strokeWidth":0.8},
    "encoding":{"x":{"field":"x2","type":"quantitative","scale":{"domain":[0.4,2.6],"nice":false,"zero":false}},"y":{"field":"y","type":"quantitative","scale":{"domain":[-2110,2904],"nice":false,"zero":false}},"y2":{"field":"yl"}}},
   {"data":{"name":"bBr"},"mark":{"type":"text","fontSize":7,"color":"#333","baseline":"bottom","dy":-1},
    "encoding":{"x":{"field":"xm","type":"quantitative","scale":{"domain":[0.4,2.6],"nice":false,"zero":false}},"y":{"field":"y","type":"quantitative","scale":{"domain":[-2110,2904],"nice":false,"zero":false}},"text":{"field":"label"}}}
  ]}
 ],"spacing":20,
 "resolve":{"scale":{"color":"independent","fill":"independent","stroke":"independent"},"legend":{"color":"independent","fill":"independent","stroke":"independent"}}},
{"hconcat":[
 {"width":203,"height":171,
  "title":{"text":"C","dx":-36,"offset":15},
  "layer":[
   {"data":{"name":"cBox"},"mark":{"type":"bar","size":45,"filled":false,"strokeWidth":1},
    "encoding":{
     "x":{"field":"c","type":"quantitative","scale":{"domain":[0.4,3.6],"nice":false,"zero":false},"axis":{"values":[1,2,3],"labelExpr":"['','WHO II','WHO III','WHO IV'][datum.value]","title":"Grade","labelFontSize":7.5,"titlePadding":2}},
     "y":{"field":"q1","type":"quantitative","scale":{"domain":[-2120,4155],"nice":false,"zero":false},"axis":{"values":[-2000,0,2000,4000],"labelExpr":"'' + datum.value","title":"ImmuneScore"}},
     "y2":{"field":"q3"},
     "color":{"field":"grp","type":"nominal","scale":{"domain":["WHO II","WHO III","WHO IV"],"range":["#F8766D","#00BA38","#619CFF"]},"legend":{"title":"Grade","legendX":32,"legendY":-14}}}},
   {"data":{"name":"cBox"},"mark":{"type":"rule","strokeWidth":1},
    "encoding":{"x":{"field":"c","type":"quantitative","scale":{"domain":[0.4,3.6],"nice":false,"zero":false}},"y":{"field":"lo","type":"quantitative","scale":{"domain":[-2120,4155],"nice":false,"zero":false}},"y2":{"field":"q1"},"color":{"field":"grp","type":"nominal","scale":{"domain":["WHO II","WHO III","WHO IV"],"range":["#F8766D","#00BA38","#619CFF"]}}}},
   {"data":{"name":"cBox"},"mark":{"type":"rule","strokeWidth":1},
    "encoding":{"x":{"field":"c","type":"quantitative","scale":{"domain":[0.4,3.6],"nice":false,"zero":false}},"y":{"field":"q3","type":"quantitative","scale":{"domain":[-2120,4155],"nice":false,"zero":false}},"y2":{"field":"hi"},"color":{"field":"grp","type":"nominal","scale":{"domain":["WHO II","WHO III","WHO IV"],"range":["#F8766D","#00BA38","#619CFF"]}}}},
   {"data":{"name":"cBox"},"mark":{"type":"tick","orient":"horizontal","size":45,"thickness":1.4},
    "encoding":{"x":{"field":"c","type":"quantitative","scale":{"domain":[0.4,3.6],"nice":false,"zero":false}},"y":{"field":"med","type":"quantitative","scale":{"domain":[-2120,4155],"nice":false,"zero":false}},"color":{"field":"grp","type":"nominal","scale":{"domain":["WHO II","WHO III","WHO IV"],"range":["#F8766D","#00BA38","#619CFF"]}}}},
   {"data":{"name":"cPts"},"mark":{"type":"circle","size":9,"opacity":1},
    "encoding":{"x":{"field":"x","type":"quantitative","scale":{"domain":[0.4,3.6],"nice":false,"zero":false}},"y":{"field":"y","type":"quantitative","scale":{"domain":[-2120,4155],"nice":false,"zero":false}},"fill":{"field":"x","type":"quantitative","scale":{"type":"threshold","domain":[1.5,2.5],"range":["#F8766D","#00BA38","#619CFF"]},"legend":null}}},
   {"data":{"name":"cBr"},"mark":{"type":"rule","color":"#666","strokeWidth":0.8},
    "encoding":{"x":{"field":"x1","type":"quantitative","scale":{"domain":[0.4,3.6],"nice":false,"zero":false}},"x2":{"field":"x2"},"y":{"field":"y","type":"quantitative","scale":{"domain":[-2120,4155],"nice":false,"zero":false}}}},
   {"data":{"name":"cBr"},"mark":{"type":"rule","color":"#666","strokeWidth":0.8},
    "encoding":{"x":{"field":"x1","type":"quantitative","scale":{"domain":[0.4,3.6],"nice":false,"zero":false}},"y":{"field":"y","type":"quantitative","scale":{"domain":[-2120,4155],"nice":false,"zero":false}},"y2":{"field":"yl"}}},
   {"data":{"name":"cBr"},"mark":{"type":"rule","color":"#666","strokeWidth":0.8},
    "encoding":{"x":{"field":"x2","type":"quantitative","scale":{"domain":[0.4,3.6],"nice":false,"zero":false}},"y":{"field":"y","type":"quantitative","scale":{"domain":[-2120,4155],"nice":false,"zero":false}},"y2":{"field":"yl"}}},
   {"data":{"name":"cBr"},"mark":{"type":"text","fontSize":7,"color":"#333","baseline":"bottom","dy":-1},
    "encoding":{"x":{"field":"xm","type":"quantitative","scale":{"domain":[0.4,3.6],"nice":false,"zero":false}},"y":{"field":"y","type":"quantitative","scale":{"domain":[-2120,4155],"nice":false,"zero":false}},"text":{"field":"label"}}}
  ]},
 {"width":201,"height":171,
  "title":{"text":"D","dx":-38,"offset":15},
  "layer":[
   {"data":{"name":"dBox"},"mark":{"type":"bar","size":65,"filled":false,"strokeWidth":1},
    "encoding":{
     "x":{"field":"c","type":"quantitative","scale":{"domain":[0.4,2.6],"nice":false,"zero":false},"axis":{"values":[1,2],"labelExpr":"datum.value == 1 ? 'Mutant' : 'Wildtype'","title":"IDH_mutation_status","labelFontSize":7.5,"titlePadding":2}},
     "y":{"field":"q1","type":"quantitative","scale":{"domain":[-2090,3014],"nice":false,"zero":false},"axis":{"values":[-2000,-1000,0,1000,2000],"labelExpr":"'' + datum.value","title":"ImmuneScore"}},
     "y2":{"field":"q3"},
     "color":{"field":"grp","type":"nominal","scale":{"domain":["Mutant","Wildtype"],"range":["#F8766D","#00BFC4"]},"legend":{"title":"IDH_mutation_status","legendX":27,"legendY":-14}}}},
   {"data":{"name":"dBox"},"mark":{"type":"rule","strokeWidth":1},
    "encoding":{"x":{"field":"c","type":"quantitative","scale":{"domain":[0.4,2.6],"nice":false,"zero":false}},"y":{"field":"lo","type":"quantitative","scale":{"domain":[-2090,3014],"nice":false,"zero":false}},"y2":{"field":"q1"},"color":{"field":"grp","type":"nominal","scale":{"domain":["Mutant","Wildtype"],"range":["#F8766D","#00BFC4"]}}}},
   {"data":{"name":"dBox"},"mark":{"type":"rule","strokeWidth":1},
    "encoding":{"x":{"field":"c","type":"quantitative","scale":{"domain":[0.4,2.6],"nice":false,"zero":false}},"y":{"field":"q3","type":"quantitative","scale":{"domain":[-2090,3014],"nice":false,"zero":false}},"y2":{"field":"hi"},"color":{"field":"grp","type":"nominal","scale":{"domain":["Mutant","Wildtype"],"range":["#F8766D","#00BFC4"]}}}},
   {"data":{"name":"dBox"},"mark":{"type":"tick","orient":"horizontal","size":65,"thickness":1.4},
    "encoding":{"x":{"field":"c","type":"quantitative","scale":{"domain":[0.4,2.6],"nice":false,"zero":false}},"y":{"field":"med","type":"quantitative","scale":{"domain":[-2090,3014],"nice":false,"zero":false}},"color":{"field":"grp","type":"nominal","scale":{"domain":["Mutant","Wildtype"],"range":["#F8766D","#00BFC4"]}}}},
   {"data":{"name":"dPts"},"mark":{"type":"circle","size":9,"opacity":1},
    "encoding":{"x":{"field":"x","type":"quantitative","scale":{"domain":[0.4,2.6],"nice":false,"zero":false}},"y":{"field":"y","type":"quantitative","scale":{"domain":[-2090,3014],"nice":false,"zero":false}},"fill":{"field":"x","type":"quantitative","scale":{"type":"threshold","domain":[1.5],"range":["#F8766D","#00BFC4"]},"legend":null}}},
   {"data":{"name":"dBr"},"mark":{"type":"rule","color":"#666","strokeWidth":0.8},
    "encoding":{"x":{"field":"x1","type":"quantitative","scale":{"domain":[0.4,2.6],"nice":false,"zero":false}},"x2":{"field":"x2"},"y":{"field":"y","type":"quantitative","scale":{"domain":[-2090,3014],"nice":false,"zero":false}}}},
   {"data":{"name":"dBr"},"mark":{"type":"rule","color":"#666","strokeWidth":0.8},
    "encoding":{"x":{"field":"x1","type":"quantitative","scale":{"domain":[0.4,2.6],"nice":false,"zero":false}},"y":{"field":"y","type":"quantitative","scale":{"domain":[-2090,3014],"nice":false,"zero":false}},"y2":{"field":"yl"}}},
   {"data":{"name":"dBr"},"mark":{"type":"rule","color":"#666","strokeWidth":0.8},
    "encoding":{"x":{"field":"x2","type":"quantitative","scale":{"domain":[0.4,2.6],"nice":false,"zero":false}},"y":{"field":"y","type":"quantitative","scale":{"domain":[-2090,3014],"nice":false,"zero":false}},"y2":{"field":"yl"}}},
   {"data":{"name":"dBr"},"mark":{"type":"text","fontSize":7,"color":"#333","baseline":"bottom","dy":-1},
    "encoding":{"x":{"field":"xm","type":"quantitative","scale":{"domain":[0.4,2.6],"nice":false,"zero":false}},"y":{"field":"y","type":"quantitative","scale":{"domain":[-2090,3014],"nice":false,"zero":false}},"text":{"field":"label"}}}
  ]},
 {"width":200,"height":171,
  "title":{"text":"E","dx":-36,"offset":15},
  "layer":[
   {"data":{"name":"eBox"},"mark":{"type":"bar","size":65,"filled":false,"strokeWidth":1},
    "encoding":{
     "x":{"field":"c","type":"quantitative","scale":{"domain":[0.4,2.6],"nice":false,"zero":false},"axis":{"values":[1,2],"labelExpr":"datum.value == 1 ? 'Codel' : 'Non-codel'","title":"1p19q_codeletion_status","labelFontSize":7.5,"titlePadding":2}},
     "y":{"field":"q1","type":"quantitative","scale":{"domain":[-2090,3014],"nice":false,"zero":false},"axis":{"values":[-2000,-1000,0,1000,2000],"labelExpr":"'' + datum.value","title":"ImmuneScore"}},
     "y2":{"field":"q3"},
     "color":{"field":"grp","type":"nominal","scale":{"domain":["Codel","Non-codel"],"range":["#F8766D","#00BFC4"]},"legend":{"title":"1p19q_codeletion_status","legendX":20,"legendY":-14}}}},
   {"data":{"name":"eBox"},"mark":{"type":"rule","strokeWidth":1},
    "encoding":{"x":{"field":"c","type":"quantitative","scale":{"domain":[0.4,2.6],"nice":false,"zero":false}},"y":{"field":"lo","type":"quantitative","scale":{"domain":[-2090,3014],"nice":false,"zero":false}},"y2":{"field":"q1"},"color":{"field":"grp","type":"nominal","scale":{"domain":["Codel","Non-codel"],"range":["#F8766D","#00BFC4"]}}}},
   {"data":{"name":"eBox"},"mark":{"type":"rule","strokeWidth":1},
    "encoding":{"x":{"field":"c","type":"quantitative","scale":{"domain":[0.4,2.6],"nice":false,"zero":false}},"y":{"field":"q3","type":"quantitative","scale":{"domain":[-2090,3014],"nice":false,"zero":false}},"y2":{"field":"hi"},"color":{"field":"grp","type":"nominal","scale":{"domain":["Codel","Non-codel"],"range":["#F8766D","#00BFC4"]}}}},
   {"data":{"name":"eBox"},"mark":{"type":"tick","orient":"horizontal","size":65,"thickness":1.4},
    "encoding":{"x":{"field":"c","type":"quantitative","scale":{"domain":[0.4,2.6],"nice":false,"zero":false}},"y":{"field":"med","type":"quantitative","scale":{"domain":[-2090,3014],"nice":false,"zero":false}},"color":{"field":"grp","type":"nominal","scale":{"domain":["Codel","Non-codel"],"range":["#F8766D","#00BFC4"]}}}},
   {"data":{"name":"ePts"},"mark":{"type":"circle","size":9,"opacity":1},
    "encoding":{"x":{"field":"x","type":"quantitative","scale":{"domain":[0.4,2.6],"nice":false,"zero":false}},"y":{"field":"y","type":"quantitative","scale":{"domain":[-2090,3014],"nice":false,"zero":false}},"fill":{"field":"x","type":"quantitative","scale":{"type":"threshold","domain":[1.5],"range":["#F8766D","#00BFC4"]},"legend":null}}},
   {"data":{"name":"eBr"},"mark":{"type":"rule","color":"#666","strokeWidth":0.8},
    "encoding":{"x":{"field":"x1","type":"quantitative","scale":{"domain":[0.4,2.6],"nice":false,"zero":false}},"x2":{"field":"x2"},"y":{"field":"y","type":"quantitative","scale":{"domain":[-2090,3014],"nice":false,"zero":false}}}},
   {"data":{"name":"eBr"},"mark":{"type":"rule","color":"#666","strokeWidth":0.8},
    "encoding":{"x":{"field":"x1","type":"quantitative","scale":{"domain":[0.4,2.6],"nice":false,"zero":false}},"y":{"field":"y","type":"quantitative","scale":{"domain":[-2090,3014],"nice":false,"zero":false}},"y2":{"field":"yl"}}},
   {"data":{"name":"eBr"},"mark":{"type":"rule","color":"#666","strokeWidth":0.8},
    "encoding":{"x":{"field":"x2","type":"quantitative","scale":{"domain":[0.4,2.6],"nice":false,"zero":false}},"y":{"field":"y","type":"quantitative","scale":{"domain":[-2090,3014],"nice":false,"zero":false}},"y2":{"field":"yl"}}},
   {"data":{"name":"eBr"},"mark":{"type":"text","fontSize":7,"color":"#333","baseline":"bottom","dy":-1},
    "encoding":{"x":{"field":"xm","type":"quantitative","scale":{"domain":[0.4,2.6],"nice":false,"zero":false}},"y":{"field":"y","type":"quantitative","scale":{"domain":[-2090,3014],"nice":false,"zero":false}},"text":{"field":"label"}}}
  ]}
 ],"spacing":55,"bounds":"flush",
 "resolve":{"scale":{"color":"independent","fill":"independent","stroke":"independent"},"legend":{"color":"independent","fill":"independent","stroke":"independent"}}}
]
}
